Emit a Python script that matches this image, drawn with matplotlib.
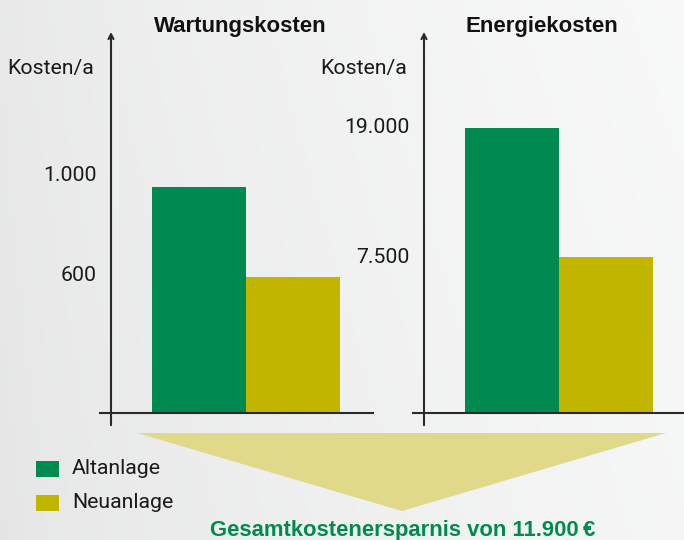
import numpy as np
import matplotlib
matplotlib.use("Agg")
import matplotlib.pyplot as plt
from matplotlib.patches import Polygon, Rectangle

# data
panels = ["Wartungskosten", "Energiekosten"]
series = ["Altanlage", "Neuanlage"]
wartung = [1000, 600]
energie = [19000, 7500]
value_labels = [["1.000", "600"], ["19.000", "7.500"]]
y_label = "Kosten/a"
savings_text = "Gesamtkostenersparnis von 11.900\u2009€"

# style
green = "#008a4f"
olive = "#c2b500"
colors = [green, olive]
tri_color = "#e0d98a"
axis_color = "#2a2a2a"
text_color = "#1a1a1a"
label_dy = [[8.5, 1.5], [0, 0]]  # small nudges of the value labels (pt)

W, H = 684, 540
fig = plt.figure(figsize=(W / 100, H / 100), dpi=100)

light = dict(family=["Roboto", "DejaVu Sans"], weight="normal", size=15.3)
bold = dict(family=["Liberation Sans", "DejaVu Sans"], weight="bold")

# background gradient + big arrow triangle (pixel coords)
bg = fig.add_axes([0, 0, 1, 1])
bg.set_xlim(0, W)
bg.set_ylim(H, 0)
bg.axis("off")
gx = np.linspace(0, 1, 200)
gy = np.linspace(0, 1, 100)
GX, GY = np.meshgrid(gx, gy)
shade = 0.91 + 0.064 * GX ** 0.7 - 0.012 * GY
bg.imshow(np.dstack([shade, shade + 0.002, shade + 0.004]).clip(0, 1),
          extent=(0, W, H, 0), aspect="auto", zorder=0)
bg.add_patch(Polygon([(137, 433), (666, 433), (402, 511)], closed=True,
                     facecolor=tri_color, edgecolor="none", zorder=1))


def panel(rect, values, labels, dys, right, yscale=None):
    ax = fig.add_axes(rect)
    ax.patch.set_alpha(0)
    if yscale is not None:
        ax.set_yscale("function", functions=yscale)
    bars = ax.bar([0, 1], values, width=1.0, color=colors, zorder=2)
    ax.set_xlim(-1.053, right)
    for s in ["left", "top", "right"]:
        ax.spines[s].set_visible(False)
    ax.spines["bottom"].set_color(axis_color)
    ax.spines["bottom"].set_linewidth(1.5)
    ax.set_xticks([])
    ax.set_yticks([])
    yx = -0.936
    trans = ax.get_xaxis_transform()
    ax.annotate("", xy=(yx, 1.0), xytext=(yx, -0.032), xycoords=trans,
                textcoords=trans,
                arrowprops=dict(arrowstyle="->,head_length=0.35,head_width=0.18",
                                lw=1.5, color=axis_color, shrinkA=0, shrinkB=0))
    ax.annotate(y_label, xy=(yx, 0.89), xycoords=trans, xytext=(-12, 0),
                textcoords="offset points", ha="right", va="baseline",
                color=text_color, **light)
    for v, lab, dy in zip(values, labels, dys):
        ax.annotate(lab, xy=(yx, v), xytext=(-10.5, dy),
                    textcoords="offset points", ha="right", va="center",
                    color=text_color, **light)
    return ax, bars


# left panel: linear
top_w = 381 / 226 * wartung[0]
axL, barsL = panel([100 / W, 127 / H, 273 / W, 381 / H], wartung,
                   value_labels[0], label_dy[0], 1.851)
axL.set_ylim(0, top_w)

# right panel: compressed (schematic) scale
p = 0.65
fwd = lambda y: np.sign(y) * np.abs(y) ** p
inv = lambda y: np.sign(y) * np.abs(y) ** (1 / p)
top_e = (381 / 285 * energie[0] ** p) ** (1 / p)
axR, barsR = panel([413 / W, 127 / H, 271 / W, 381 / H], energie,
                   value_labels[1], label_dy[1], 1.830, yscale=(fwd, inv))
axR.set_ylim(0, top_e)

# titles
fig.text(240 / W, 1 - 32 / H, panels[0], ha="center", va="baseline",
         size=16, color="#111111", **bold)
fig.text(542 / W, 1 - 32 / H, panels[1], ha="center", va="baseline",
         size=16, color="#111111", **bold)

# legend
for i, (name, c) in enumerate(zip(series, colors)):
    y0 = 461 + 34 * i
    bg.add_patch(Rectangle((36, y0), 23, 16, facecolor=c, edgecolor="none",
                           zorder=2))
    bg.text(72, y0 + 8, name, ha="left", va="center", color=text_color,
            zorder=3, **light)

# savings caption
fig.text(403 / W, 1 - 536 / H, savings_text, ha="center", va="baseline",
         size=15.8, color=green, **bold)

fig.savefig("out.png", dpi=100)
